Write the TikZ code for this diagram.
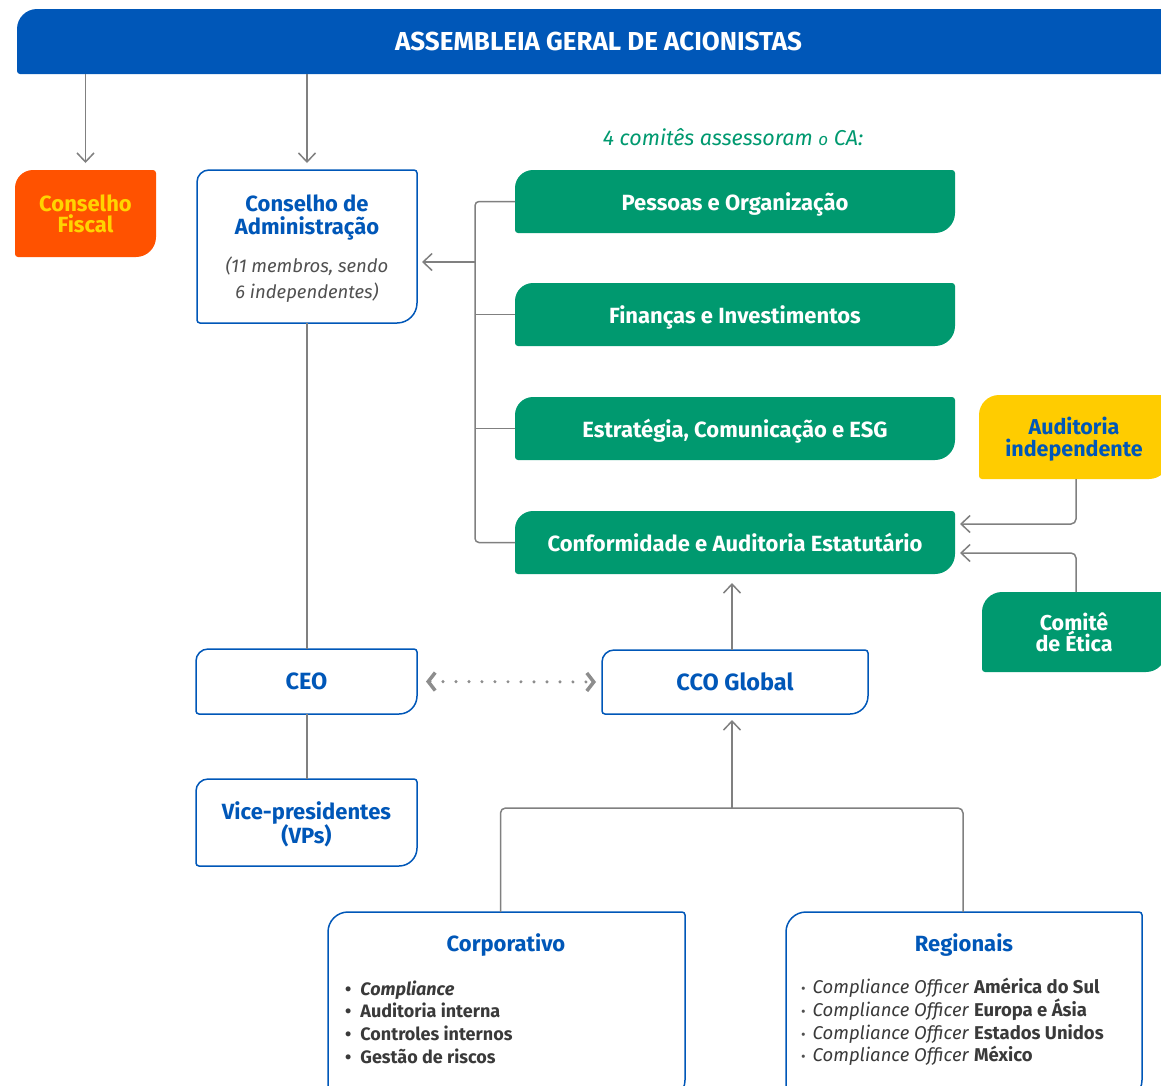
\documentclass[tikz,border=0pt]{standalone}
\usepackage{fontspec}
\setmainfont{Fira Sans}
\usetikzlibrary{arrows.meta,calc,backgrounds}
\definecolor{itblue}{HTML}{0057B8}
\definecolor{itgreen}{HTML}{00996F}
\definecolor{itorange}{HTML}{FF5200}
\definecolor{ityellow}{HTML}{FFCC00}
\definecolor{fiscaltxt}{HTML}{FFD400}
\definecolor{lgray}{HTML}{808080}
\definecolor{tgray}{HTML}{505050}
\definecolor{dgray}{HTML}{3A3A3A}
\newcommand\leafshape[6]{%
 \path[#2] let \p1=(#1.south west), \p2=(#1.north east) in
 (\x1,\y2-#3) arc[start angle=180,end angle=90,radius=#3]
 -- (\x2-#4,\y2) arc[start angle=90,end angle=0,radius=#4]
 -- (\x2,\y1+#5) arc[start angle=0,end angle=-90,radius=#5]
 -- (\x1+#6,\y1) arc[start angle=270,end angle=180,radius=#6] -- cycle;}
\newcommand\rbul{{\color{tgray}\fontsize{14}{11}\selectfont•}\hspace{7pt}}
\newcommand\cbul{•\hspace{9pt}}
\begin{document}
\begin{tikzpicture}[x=1pt,y=1pt,
  conn/.style={draw=lgray,line width=1.5pt},
  arr/.style={conn,-{Straight Barb[length=9pt,width=17pt]}},
  sz/.style 2 args={minimum width=#1pt,minimum height=#2pt,inner sep=0pt,outer sep=0pt,align=center},
  lowr/.style={text depth=0pt},
  ttl/.style={font=\fontsize{22}{23}\selectfont\bfseries},
  bbox/.style={fill=white,draw=itblue,line width=1.5pt},
  gtxt/.style={ttl,text=white,lowr},
  btxt/.style={ttl,text=itblue}]
\useasboundingbox (0,0) rectangle (1161,-1085);
% nodes
\node[sz={1163}{65},text=white,font=\fontsize{26}{26}\selectfont\bfseries] (ban) at (598.5,-41.5) {ASSEMBLEIA GERAL DE ACIONISTAS};
\node[sz={141}{87},text=fiscaltxt,font=\fontsize{22}{21}\selectfont\bfseries] (fis) at (85.5,-213.5) {Conselho\\Fiscal};
\node[sz={220}{153},btxt,lowr] (ca) at (307,-246.5) {Conselho de\\Administração\\[15pt]{\color{tgray}\mdseries\itshape\fontsize{18.5}{23}\selectfont (11 membros, sendo}\\[3pt]{\color{tgray}\mdseries\itshape\fontsize{18.5}{23}\selectfont 6 independentes)}};
\node[text=itgreen,font=\fontsize{21.5}{22}\selectfont\itshape] (lbl) at (733,-137) {4 comitês assessoram {\fontsize{17}{15}\selectfont o} CA:};
\node[sz={440}{63},gtxt] (pes) at (735,-201.5) {Pessoas e Organização};
\node[sz={440}{63},gtxt] (fin) at (735,-314.5) {Finanças e Investimentos};
\node[sz={440}{63},gtxt] (est) at (735,-428.5) {Estratégia, Comunicação e ESG};
\node[sz={440}{63},gtxt] (conf) at (735,-542.5) {Conformidade e Auditoria Estatutário};
\node[sz={190}{84},btxt,lowr,font=\fontsize{21.5}{22}\selectfont\bfseries] (aud) at (1074,-437) {Auditoria\\independente};
\node[sz={184}{80},gtxt,font=\fontsize{21.5}{21}\selectfont\bfseries] (eti) at (1074,-632) {Comitê\\de Ética};
\node[sz={221}{65},btxt,lowr,font=\fontsize{23.5}{23}\selectfont\bfseries] (ceo) at (306.5,-681.5) {CEO};
\node[sz={266}{64},btxt,font=\fontsize{23.5}{23}\selectfont\bfseries] (cco) at (735,-682) {CCO Global};
\node[sz={221}{87},btxt,lowr,font=\fontsize{22}{21}\selectfont\bfseries] (vp) at (306.5,-822.5) {Vice-presidentes\\(VPs)};
\node[sz={357}{188}] (corp) at (506.5,-1006) {};
\node[sz={356}{188}] (reg) at (964,-1006) {};
\node[btxt] (corpt) at (506,-945.5) {Corporativo};
\node[btxt] (regt) at (964,-945.5) {Regionais};
\node[anchor=west,align=left,text=dgray,inner sep=0pt,font=\fontsize{18}{22.7}\selectfont\bfseries] (corpl) at (345,-1022) {\cbul\textit{Compliance}\\\cbul Auditoria interna\\\cbul Controles internos\\\cbul Gestão de riscos};
\node[anchor=west,align=left,text=dgray,inner sep=0pt,font=\fontsize{18.5}{22.7}\selectfont] (regl) at (801,-1022) {\rbul\textit{Compliance Officer} \textbf{América do Sul}\\\rbul\textit{Compliance Officer} \textbf{Europa e Ásia}\\\rbul\textit{Compliance Officer} \textbf{Estados Unidos}\\\rbul\textit{Compliance Officer} \textbf{México}};
% shapes
\begin{scope}[on background layer]
\leafshape{ban}{fill=itblue}{20pt}{3pt}{3pt}{3pt}
\leafshape{fis}{fill=itorange}{18pt}{3pt}{20pt}{3pt}
\leafshape{ca}{bbox}{12pt}{3pt}{20pt}{3pt}
\leafshape{pes}{fill=itgreen}{18pt}{3pt}{20pt}{3pt}
\leafshape{fin}{fill=itgreen}{18pt}{3pt}{20pt}{3pt}
\leafshape{est}{fill=itgreen}{18pt}{3pt}{20pt}{3pt}
\leafshape{conf}{fill=itgreen}{18pt}{3pt}{20pt}{3pt}
\leafshape{aud}{fill=ityellow}{20pt}{3pt}{20pt}{3pt}
\leafshape{eti}{fill=itgreen}{20pt}{3pt}{20pt}{3pt}
\leafshape{ceo}{bbox}{12pt}{3pt}{18pt}{3pt}
\leafshape{cco}{bbox}{12pt}{3pt}{18pt}{3pt}
\leafshape{vp}{bbox}{12pt}{3pt}{18pt}{3pt}
\leafshape{corp}{bbox}{20pt}{3pt}{20pt}{3pt}
\leafshape{reg}{bbox}{20pt}{3pt}{20pt}{3pt}
\end{scope}
% connectors
\draw[arr,shorten >=7pt] (ban.south -| fis.north) -- (fis.north);
\draw[arr,shorten >=7pt] (ban.south -| ca.north) -- (ca.north);
\draw[conn,rounded corners=4pt] (pes.west) -- ++(-40,0) |- (conf.west);
\draw[conn] (fin.west) -- ++(-40,0);
\draw[conn] (est.west) -- ++(-40,0);
\coordinate (brk) at (475,-262);
\draw[arr,shorten >=5pt] (brk) -- (brk -| ca.east);
\coordinate (audx) at (1076,-479);
\coordinate (etix) at (1076,-592);
\draw[arr,rounded corners=5pt,shorten >=5pt] (audx) |- ($(conf.east)+(0,18.5)$);
\draw[arr,rounded corners=5pt,shorten >=5pt] (etix) |- ($(conf.east)+(0,-10.5)$);
\draw[arr,shorten >=9pt] ([xshift=-3pt]cco.north) -- ([xshift=-3pt]conf.south);
\draw[conn] (ca.south) -- (ca.south |- ceo.north);
\draw[conn] (ca.south |- ceo.south) -- (ca.south |- vp.north);
\draw[draw=lgray!90,line width=3.4pt,line cap=round,dash pattern=on 0pt off 13pt,
  {Straight Barb[length=7pt,width=18pt,line width=3.5pt]}-{Straight Barb[length=7pt,width=18pt,line width=3.5pt]},
  shorten <=9pt,shorten >=6pt] (ceo.east) -- (cco.west);
\coordinate (jn) at (732,-808);
\draw[conn,rounded corners=5pt] ([xshift=-6pt]corp.north) |- (jn) -| ([xshift=-1pt]reg.north);
\draw[arr,shorten >=6pt] (jn) -- (jn |- cco.south);
\end{tikzpicture}
\end{document}
